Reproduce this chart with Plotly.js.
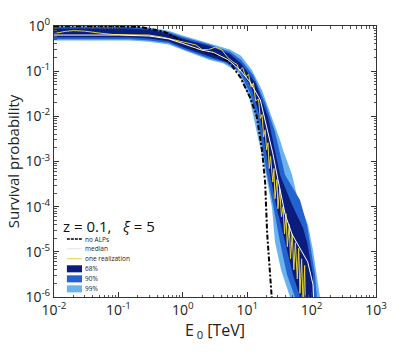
<!DOCTYPE html>
<html>
<head>
<meta charset="utf-8">
<script src="https://cdn.plot.ly/plotly-3.0.1.min.js"></script>
<style>
  html, body { margin: 0; padding: 0; background: #fff; }
  #plot { width: 415px; height: 354px; }
</style>
</head>
<body>
<div id="plot"></div>
<script>
// band edges: energy in TeV, survival probability
let band99UpperE = [0.01, 0.15, 0.3, 0.6, 1, 2.6, 5.4, 8, 11.9, 17, 24.3, 32.3, 36, 49.7, 61.5, 87.9, 105, 117, 135, 138]
let band99UpperP = [1, 1, 0.93, 0.78, 0.62, 0.42, 0.3, 0.22, 0.105, 0.038, 9.7e-3, 3e-3, 1.8e-3, 5.1e-4, 1.4e-4, 4e-5, 1.1e-5, 4e-6, 1e-6, 1e-7]
let band99LowerE = [0.01, 0.15, 0.3, 0.6, 1, 2.6, 4.2, 7.2, 11, 14.8, 19.6, 24.3, 27, 33.5, 46.2, 48]
let band99LowerP = [0.48, 0.48, 0.45, 0.39, 0.29, 0.177, 0.15, 0.096, 0.023, 3.5e-3, 5.1e-4, 9.4e-5, 1.66e-5, 4e-6, 1e-6, 1e-7]

let band90UpperE = [0.01, 0.15, 0.3, 0.6, 1, 2.6, 5.4, 8, 12.5, 19, 27, 38.6, 66.1, 84.9, 98, 113, 121, 124]
let band90UpperP = [0.95, 0.95, 0.89, 0.74, 0.57, 0.39, 0.27, 0.18, 0.08, 0.02, 4.5e-3, 5.1e-4, 1.4e-4, 4e-5, 1.1e-5, 3.1e-6, 1e-6, 1e-7]
let band90LowerE = [0.01, 0.15, 0.3, 0.6, 1, 2.6, 4.5, 7.5, 11.2, 15.2, 20.3, 25.2, 32.3, 41.5, 55.2, 58]
let band90LowerP = [0.51, 0.51, 0.48, 0.42, 0.31, 0.19, 0.155, 0.1, 0.032, 6e-3, 5.1e-4, 1.1e-4, 1.66e-5, 3.1e-6, 1e-6, 1e-7]

let band68UpperE = [0.01, 0.15, 0.3, 0.6, 1, 2.6, 5.4, 8, 13.5, 21, 32.3, 49.7, 73.5, 84.9, 105, 105, 106]
let band68UpperP = [0.88, 0.88, 0.83, 0.68, 0.52, 0.36, 0.24, 0.15, 0.055, 9.7e-3, 5.1e-4, 1.1e-4, 3.4e-5, 1.66e-5, 3.1e-6, 1e-6, 1e-7]
let band68LowerE = [0.01, 0.15, 0.3, 0.6, 1, 2.6, 5.4, 8, 11.5, 15.8, 22.6, 28, 38.6, 51.4, 66.1, 68]
let band68LowerP = [0.56, 0.56, 0.53, 0.46, 0.34, 0.21, 0.15, 0.1, 0.045, 9.7e-3, 5.1e-4, 1.1e-4, 1.66e-5, 3.1e-6, 1e-6, 1e-7]

// curves
let medianE = [0.01, 0.03, 0.1, 0.3, 0.6, 1, 2, 3, 5, 7.7, 11, 16, 20, 25, 30, 39, 50, 71, 87, 105, 115]
let medianP = [0.63, 0.63, 0.63, 0.6, 0.52, 0.41, 0.29, 0.26, 0.18, 0.107, 0.058, 0.023, 6e-3, 1.5e-3, 4e-4, 6.6e-5, 2.4e-5, 1e-5, 6e-6, 1.9e-6, 1e-7]

let noAlpE = [0.01, 0.1, 0.22, 0.52, 0.91, 1.55, 2.6, 3.8, 5.4, 7.8, 11, 14.1, 17, 19, 20.4, 22.4, 24, 25]
let noAlpP = [0.99, 0.99, 0.95, 0.74, 0.49, 0.32, 0.26, 0.22, 0.15, 0.074, 0.027, 9.8e-3, 1.8e-3, 3.4e-4, 2.6e-5, 4.7e-6, 1e-6, 1e-7]

let realE = [0.01, 0.015, 0.02, 0.03, 0.05, 0.08, 0.15, 0.3, 0.5, 0.8, 1.2, 1.6, 2, 2.5, 3.2, 4, 5, 6, 7, 7.5, 8.5, 9.5, 10.5, 11.5, 12.5, 13.5, 15, 16, 17, 18, 19, 20, 21, 22, 23, 25, 26, 27, 29, 30, 32, 34, 36, 38, 40, 42, 45, 47, 50, 53, 56, 60, 63, 66, 70, 74, 78, 82]
let realP = [0.68, 0.76, 0.79, 0.77, 0.7, 0.65, 0.64, 0.63, 0.56, 0.47, 0.42, 0.38, 0.3, 0.3, 0.34, 0.3, 0.2, 0.16, 0.14, 0.1, 0.12, 0.075, 0.085, 0.045, 0.055, 0.022, 0.024, 9e-3, 0.011, 3.5e-3, 5e-3, 1.8e-3, 2.6e-3, 7e-4, 1.3e-3, 3.5e-4, 7e-4, 1.5e-4, 4e-4, 9e-5, 2.5e-4, 6e-5, 1e-4, 2.5e-5, 7e-5, 1.3e-5, 4e-5, 7e-6, 2.5e-5, 4e-6, 1.6e-5, 2.5e-6, 1.2e-5, 1.2e-6, 7e-6, 6e-7, 5e-6, 1e-7]

let xTickVals = [0.01, 0.1, 1, 10, 100, 1000]
let xTickText = ['10<sup>-2</sup>', '10<sup>-1</sup>', '10<sup>0</sup>', '10<sup>1</sup>', '10<sup>2</sup>', '10<sup>3</sup>']
let yTickVals = [1e-6, 1e-5, 1e-4, 1e-3, 1e-2, 1e-1, 1]
let yTickText = ['10<sup>-6</sup>', '10<sup>-5</sup>', '10<sup>-4</sup>', '10<sup>-3</sup>', '10<sup>-2</sup>', '10<sup>-1</sup>', '10<sup>0</sup>']

let legendNames = ['no ALPs', 'median', 'one realization', '68%', '90%', '99%']

let col68 = '#0b1d7c'
let col90 = '#2462cf'
let col99 = '#6bb3ef'
let colReal = '#e6d23a'

// closed polygon: upper edge forward, lower edge backward
function band(upE, upP, loE, loP, color) {
    return {
        x: upE.concat(loE.slice().reverse()),
        y: upP.concat(loP.slice().reverse()),
        type: 'scatter',
        mode: 'lines',
        fill: 'toself',
        fillcolor: color,
        line: {width: 0, color: color},
        hoverinfo: 'skip',
        showlegend: false
    }
}

let data = [
    band(band99UpperE, band99UpperP, band99LowerE, band99LowerP, col99),
    band(band90UpperE, band90UpperP, band90LowerE, band90LowerP, col90),
    band(band68UpperE, band68UpperP, band68LowerE, band68LowerP, col68),
    {x: noAlpE, y: noAlpP, type: 'scatter', mode: 'lines', line: {color: '#000', width: 2, dash: '5px,2px,2px,2px'}, showlegend: false},
    {x: realE, y: realP, type: 'scatter', mode: 'lines', line: {color: colReal, width: 1}, showlegend: false},
    {x: medianE, y: medianP, type: 'scatter', mode: 'lines', line: {color: '#ffffff', width: 1}, showlegend: false}
]

// hand-made legend (plotly legend rows are too tall for this)
let rowY = [0.214, 0.178, 0.141, 0.104, 0.067, 0.030]
let sx0 = 0.040, sx1 = 0.087
let shapes = [
    {type: 'line', xref: 'paper', yref: 'paper', x0: sx0, x1: sx1, y0: rowY[0], y1: rowY[0], line: {color: '#000', width: 1.5, dash: '3px,1px'}},
    {type: 'line', xref: 'paper', yref: 'paper', x0: sx0, x1: sx1, y0: rowY[1], y1: rowY[1], line: {color: '#e4e4e4', width: 1}},
    {type: 'line', xref: 'paper', yref: 'paper', x0: sx0, x1: sx1, y0: rowY[2], y1: rowY[2], line: {color: colReal, width: 1}}
]
let patchCols = [col68, col90, col99]
for (let i = 0; i < 3; i++) {
    shapes.push({type: 'rect', xref: 'paper', yref: 'paper', x0: sx0, x1: sx1,
        y0: rowY[i + 3] - 0.013, y1: rowY[i + 3] + 0.013, fillcolor: patchCols[i], line: {width: 0}})
}

let annotations = legendNames.map((name, i) => ({
    xref: 'paper', yref: 'paper', x: sx1 + 0.003, y: rowY[i], text: name,
    showarrow: false, xanchor: 'left', yanchor: 'middle',
    font: {size: 6.5, color: '#222'}
}))
annotations.push({
    xref: 'paper', yref: 'paper', x: 0.022, y: 0.262,
    text: 'z = 0.1,   <i>ξ</i> = 5', showarrow: false,
    xanchor: 'left', yanchor: 'middle', font: {size: 15, color: '#111'}
})

let axisStyle = {
    type: 'log',
    showgrid: false,
    zeroline: false,
    showline: true,
    linecolor: '#333',
    linewidth: 1,
    mirror: 'allticks',
    ticks: 'inside',
    ticklen: 5,
    tickcolor: '#333',
    minor: {ticks: 'inside', ticklen: 2.5, dtick: 'D1', tickcolor: '#555', showgrid: false},
    tickfont: {size: 14, color: '#222'}
}

let layout = {
    width: 415,
    height: 354,
    margin: {l: 54, r: 39, t: 26, b: 57},
    paper_bgcolor: '#fff',
    plot_bgcolor: '#fff',
    font: {family: 'Open Sans, sans-serif', color: '#222'},
    showlegend: false,
    xaxis: Object.assign({}, axisStyle, {
        range: [-2, 3],
        tickmode: 'array', tickvals: xTickVals, ticktext: xTickText,
        title: {text: 'E<sub> 0</sub> [TeV]', font: {size: 16}, standoff: 4}
    }),
    yaxis: Object.assign({}, axisStyle, {
        range: [-6, 0],
        tickmode: 'array', tickvals: yTickVals, ticktext: yTickText,
        title: {text: 'Survival probability', font: {size: 15}, standoff: 2}
    }),
    shapes: shapes,
    annotations: annotations
}

Plotly.newPlot('plot', data, layout, {displayModeBar: false, staticPlot: true})
</script>
</body>
</html>
